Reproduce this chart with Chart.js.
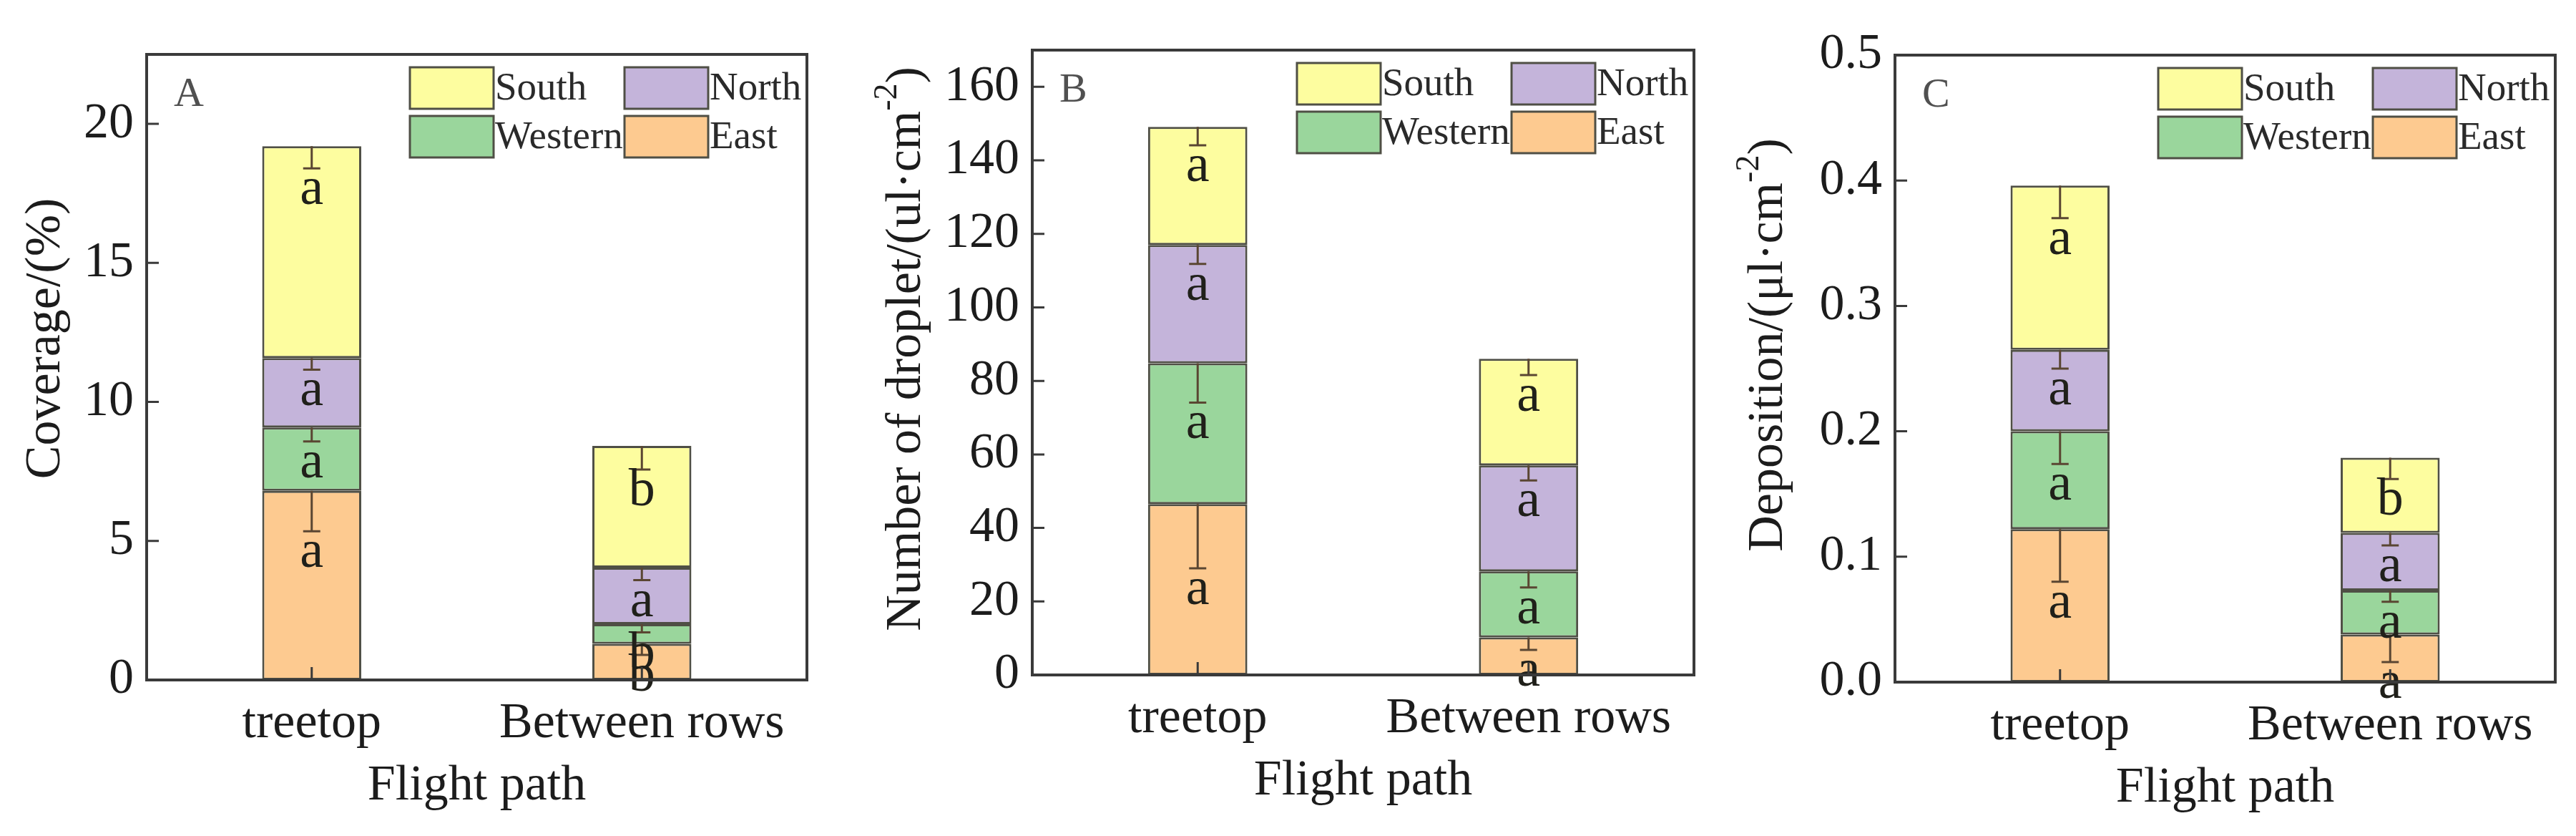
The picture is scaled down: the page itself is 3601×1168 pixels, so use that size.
<!DOCTYPE html>
<html lang="en">
<head>
<meta charset="UTF-8" />
<title>Coverage, droplet number and deposition by flight path</title>
<script src="https://cdn.jsdelivr.net/npm/chart.js@4"></script>
<style>
  body { margin: 0; background: #ffffff; }
  canvas.panel { position: absolute; top: 0; }
</style>
</head>
<body>
<canvas id="chartA" class="panel" width="1200" height="1168" style="left:0px"></canvas>
<canvas id="chartB" class="panel" width="1200" height="1168" style="left:1200px"></canvas>
<canvas id="chartC" class="panel" width="1201" height="1168" style="left:2400px"></canvas>

<script>
// ---- data ----
const categories = ["treetop", "Between rows"];
const seriesNames = ["East", "Western", "North", "South"]; // stacked bottom -> top
const seriesColors = ["#fdca90", "#9ad69c", "#c4b4da", "#fdfd9f"];

// A: coverage (%)
const coverageEast = [6.8, 1.3];
const coverageWestern = [2.28, 0.71];
const coverageNorth = [2.5, 2.03];
const coverageSouth = [7.62, 4.38];
const coverageErrEast = [1.45, 0.4];
const coverageErrWestern = [0.5, 0.3];
const coverageErrNorth = [0.42, 0.45];
const coverageErrSouth = [0.8, 0.85];
const coverageLetters = [["a", "b"], ["a", "b"], ["a", "a"], ["a", "b"]];

// B: number of droplets (ul·cm-2)
const dropletEast = [46.5, 10.2];
const dropletWestern = [38.3, 18.0];
const dropletNorth = [32.2, 28.8];
const dropletSouth = [32.1, 29.0];
const dropletErrEast = [17.5, 3.4];
const dropletErrWestern = [10.7, 4.4];
const dropletErrNorth = [5.2, 4.1];
const dropletErrSouth = [5.0, 4.4];
const dropletLetters = [["a", "a"], ["a", "a"], ["a", "a"], ["a", "a"]];

// C: deposition (μl·cm-2)
const depositionEast = [0.122, 0.038];
const depositionWestern = [0.078, 0.035];
const depositionNorth = [0.065, 0.046];
const depositionSouth = [0.131, 0.060];
const depositionErrEast = [0.042, 0.022];
const depositionErrWestern = [0.026, 0.009];
const depositionErrNorth = [0.015, 0.010];
const depositionErrSouth = [0.026, 0.017];
const depositionLetters = [["a", "a"], ["a", "a"], ["a", "a"], ["a", "b"]];

const yTicksA = { max: 22.5, step: 5, digits: 0 };
const yTicksB = { max: 170, step: 20, digits: 0 };
const yTicksC = { max: 0.5, step: 0.1, digits: 1 };

// ---- drawing ----
const FONT = "'Liberation Serif', 'Times New Roman', serif";
const INK = "#1c1c1c";
const edge = "#4f4f45";

function drawRotatedTitle(ctx, parts, cx, cy) {
  ctx.save();
  ctx.translate(cx, cy);
  ctx.rotate(-Math.PI / 2);
  let total = 0;
  parts.forEach(p => {
    ctx.font = (p.sup ? "46px " : "70px ") + FONT;
    p.w = ctx.measureText(p.t).width;
    total += p.w;
  });
  let x = -total / 2;
  ctx.textAlign = "left";
  ctx.textBaseline = "middle";
  parts.forEach(p => {
    ctx.font = (p.sup ? "46px " : "70px ") + FONT;
    ctx.fillText(p.t, x, p.sup ? -27 : 0);
    x += p.w;
  });
  ctx.restore();
}

const decorPlugin = {
  id: "panelDecor",
  afterDatasetsDraw(chart, args, opts) {
    const ctx = chart.ctx;
    const area = chart.chartArea;
    const xs = chart.scales.x;
    const ys = chart.scales.y;
    ctx.save();

    // error bars (lower half only) and significance letters
    const cum = categories.map(() => 0);
    chart.data.datasets.forEach((ds, i) => {
      const meta = chart.getDatasetMeta(i);
      meta.data.forEach((bar, j) => {
        cum[j] += ds.data[j];
        const yTop = ys.getPixelForValue(cum[j]);
        const yEnd = ys.getPixelForValue(cum[j] - ds.errors[j]);
        ctx.strokeStyle = "#5a4632";
        ctx.lineWidth = 3;
        ctx.beginPath();
        ctx.moveTo(bar.x, yTop);
        ctx.lineTo(bar.x, yEnd);
        ctx.moveTo(bar.x - 12, yEnd);
        ctx.lineTo(bar.x + 12, yEnd);
        ctx.stroke();
        ctx.fillStyle = "#20201a";
        ctx.font = "74px " + FONT;
        ctx.textAlign = "center";
        ctx.textBaseline = "alphabetic";
        ctx.fillText(ds.letters[j], bar.x, yEnd + 50);
      });
    });

    // inward ticks
    ctx.strokeStyle = "#3a3a3a";
    ctx.lineWidth = 3;
    ctx.beginPath();
    ys.ticks.forEach(t => {
      const py = ys.getPixelForValue(t.value);
      ctx.moveTo(area.left, py);
      ctx.lineTo(area.left + 17, py);
    });
    categories.forEach((c, j) => {
      const px = xs.getPixelForValue(j);
      ctx.moveTo(px, area.bottom);
      ctx.lineTo(px, area.bottom - 18);
    });
    ctx.stroke();

    // frame
    ctx.strokeStyle = "#3a3a3a";
    ctx.lineWidth = 4;
    ctx.strokeRect(area.left, area.top, area.right - area.left, area.bottom - area.top);

    // legend: South North / Western East
    const grid = [[3, 2], [1, 0]];
    const colX = [area.right - 555, area.right - 255];
    const rowY = [area.top + 18, area.top + 86];
    grid.forEach((row, r) => row.forEach((di, c) => {
      const ds = chart.data.datasets[di];
      ctx.fillStyle = ds.backgroundColor;
      ctx.fillRect(colX[c], rowY[r], 117, 58);
      ctx.strokeStyle = edge;
      ctx.lineWidth = 3;
      ctx.strokeRect(colX[c], rowY[r], 117, 58);
      ctx.fillStyle = "#2a2a2a";
      ctx.font = "55px " + FONT;
      ctx.textAlign = "left";
      ctx.textBaseline = "middle";
      ctx.fillText(ds.label, colX[c] + 119, rowY[r] + 31);
    }));

    // panel letter
    ctx.fillStyle = "#505050";
    ctx.font = "58px " + FONT;
    ctx.textAlign = "left";
    ctx.textBaseline = "alphabetic";
    ctx.fillText(opts.tag, area.left + 38, area.top + 72);

    // axis titles
    ctx.fillStyle = INK;
    drawRotatedTitle(ctx, opts.yTitle, opts.yTitleX, (area.top + area.bottom) / 2 + opts.yTitleShift);
    ctx.font = "70px " + FONT;
    ctx.textAlign = "center";
    ctx.textBaseline = "middle";
    ctx.fillText("Flight path", (area.left + area.right) / 2, area.bottom + 149);

    ctx.restore();
  }
};

function buildPanel(id, p) {
  const datasets = seriesNames.map((name, i) => ({
    label: name,
    data: p.values[i],
    errors: p.errors[i],
    letters: p.letters[i],
    backgroundColor: seriesColors[i],
    borderColor: edge,
    borderWidth: 3,
    borderSkipped: false,
    barPercentage: 0.6,
    categoryPercentage: 0.5,
  }));

  return new Chart(document.getElementById(id), {
    type: "bar",
    data: { labels: categories, datasets: datasets },
    plugins: [decorPlugin],
    options: {
      responsive: false,
      animation: false,
      devicePixelRatio: 1,
      layout: { padding: { left: 0, right: p.padRight, top: p.padTop, bottom: 0 } },
      plugins: {
        legend: { display: false },
        tooltip: { enabled: false },
        panelDecor: { tag: p.tag, yTitle: p.yTitle, yTitleX: p.yTitleX, yTitleShift: p.yTitleShift },
      },
      scales: {
        x: {
          stacked: true,
          grid: { display: false },
          border: { display: false },
          ticks: { color: INK, font: { family: FONT, size: 70 }, padding: 12 },
          afterFit(scale) { scale.height = p.xHeight; },
        },
        y: {
          stacked: true,
          min: 0,
          max: p.ticks.max,
          grid: { display: false },
          border: { display: false },
          ticks: {
            stepSize: p.ticks.step,
            includeBounds: false,
            color: INK,
            font: { family: FONT, size: 70 },
            padding: 10,
            callback: v => Number(v).toFixed(p.ticks.digits),
          },
          afterFit(scale) { scale.width = p.yWidth; },
        },
      },
    },
  });
}

buildPanel("chartA", {
  tag: "A",
  values: [coverageEast, coverageWestern, coverageNorth, coverageSouth],
  errors: [coverageErrEast, coverageErrWestern, coverageErrNorth, coverageErrSouth],
  letters: coverageLetters,
  ticks: yTicksA,
  yTitle: [{ t: "Coverage/(%)" }],
  yTitleX: 65, yTitleShift: -40,
  yWidth: 205, padRight: 72, padTop: 76, xHeight: 218,
});

buildPanel("chartB", {
  tag: "B",
  values: [dropletEast, dropletWestern, dropletNorth, dropletSouth],
  errors: [dropletErrEast, dropletErrWestern, dropletErrNorth, dropletErrSouth],
  letters: dropletLetters,
  ticks: yTicksB,
  yTitle: [{ t: "Number of droplet/(ul·cm" }, { t: "-2", sup: true }, { t: ")" }],
  yTitleX: 68, yTitleShift: -19,
  yWidth: 243, padRight: 32, padTop: 70, xHeight: 225,
});

buildPanel("chartC", {
  tag: "C",
  values: [depositionEast, depositionWestern, depositionNorth, depositionSouth],
  errors: [depositionErrEast, depositionErrWestern, depositionErrNorth, depositionErrSouth],
  letters: depositionLetters,
  ticks: yTicksC,
  yTitle: [{ t: "Deposition/(μl·cm" }, { t: "-2", sup: true }, { t: ")" }],
  yTitleX: 73, yTitleShift: -33,
  yWidth: 249, padRight: 29, padTop: 77, xHeight: 215,
});
</script>
</body>
</html>
